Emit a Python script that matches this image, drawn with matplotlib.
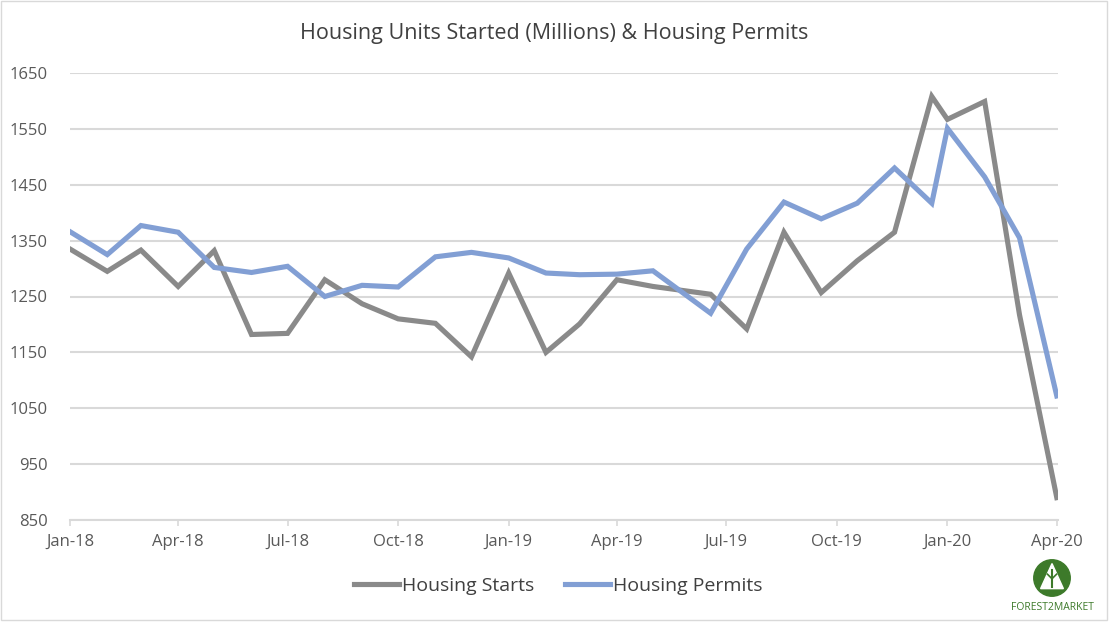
import numpy as np
import pandas as pd
import matplotlib.pyplot as plt
import matplotlib.dates as mdates
from matplotlib.patches import Circle, Polygon, Rectangle

# data (Jun-Dec 2019 are dated mid-month in the source)
dates = pd.to_datetime([
    '2018-01-01', '2018-02-01', '2018-03-01', '2018-04-01', '2018-05-01', '2018-06-01',
    '2018-07-01', '2018-08-01', '2018-09-01', '2018-10-01', '2018-11-01', '2018-12-01',
    '2019-01-01', '2019-02-01', '2019-03-01', '2019-04-01', '2019-05-01',
    '2019-06-18', '2019-07-18', '2019-08-18', '2019-09-18', '2019-10-18', '2019-11-18',
    '2019-12-19', '2020-01-01', '2020-02-01', '2020-03-01', '2020-04-01',
])
starts = [1335, 1295, 1333, 1268, 1332, 1182, 1184, 1280, 1237, 1210, 1202, 1142,
          1292, 1150, 1201, 1280, 1268, 1254, 1192, 1365, 1257, 1314, 1365,
          1608, 1567, 1599, 1217, 890]
permits = [1366, 1325, 1377, 1365, 1302, 1293, 1304, 1250, 1270, 1267, 1321, 1329,
           1319, 1292, 1289, 1290, 1296, 1220, 1335, 1419, 1389, 1417, 1480,
           1417, 1551, 1464, 1355, 1072]
yticks = [850, 950, 1050, 1150, 1250, 1350, 1450, 1550, 1650]

plt.rcParams['font.family'] = ['Open Sans', 'DejaVu Sans']

W, H = 1109, 629
fig = plt.figure(figsize=(W / 100, H / 100), dpi=100)
ax = fig.add_axes([70 / W, 1 - 520 / H, 988 / W, 447 / H])

grey = '#8a8a8a'
blue = '#829fd4'
ax.plot(dates, starts, color=grey, lw=3.7, label='Housing Starts', solid_joinstyle='miter')
ax.plot(dates, permits, color=blue, lw=3.7, label='Housing Permits', solid_joinstyle='miter')

ax.set_ylim(850, 1650)
ax.set_yticks(yticks)
ax.set_xlim(pd.Timestamp('2018-01-01'), pd.Timestamp('2020-04-02'))
ax.xaxis.set_major_locator(mdates.MonthLocator(bymonth=[1, 4, 7, 10]))
ax.xaxis.set_major_formatter(mdates.DateFormatter('%b-%y'))

ax.grid(axis='y', color='#d9d9d9', lw=1.5)
ax.set_axisbelow(True)
for s in ['top', 'right', 'left']:
    ax.spines[s].set_visible(False)
ax.spines['bottom'].set_color('#d9d9d9')
ax.spines['bottom'].set_linewidth(1.5)
ax.tick_params(axis='y', length=0, pad=16, labelsize=12, labelcolor='#595959')
ax.tick_params(axis='x', length=4, width=1.2, color='#d9d9d9', pad=6,
               labelsize=12, labelcolor='#595959')

fig.text(0.5, 1 - 33 / H, 'Housing Units Started (Millions) & Housing Permits',
         ha='center', va='center', fontsize=15.5, color='#404040')

leg = fig.legend(loc='center', bbox_to_anchor=(558 / W, 1 - 586 / H), ncol=2,
                 frameon=False, fontsize=14, handlelength=2.3, handletextpad=0.15,
                 columnspacing=1.6, labelcolor='#404040')

# logo
logo = fig.add_axes([1033 / W, 1 - 597 / H, 38 / W, 38 / H])
logo.set_xlim(0, 1)
logo.set_ylim(0, 1)
logo.axis('off')
logo.add_patch(Circle((0.5, 0.5), 0.48, color='#3d7a2a'))
logo.add_patch(Polygon([[0.5, 0.88], [0.2, 0.22], [0.8, 0.22]], color='white'))
logo.plot([0.5, 0.5], [0.26, 0.7], color='#3d7a2a', lw=1.5)
logo.plot([0.38, 0.5, 0.62], [0.6, 0.48, 0.6], color='#3d7a2a', lw=1.2)
fig.text(1052 / W, 1 - 608 / H, 'FOREST2MARKET', ha='center', va='center',
         fontsize=7.5, color='#3d7a2a')

# chart border
fig.add_artist(Rectangle((1 / W, 1 - 620 / H), 1106 / W, 619 / H, fill=False,
                         edgecolor='#d9d9d9', lw=1, transform=fig.transFigure))

fig.savefig('out.png', dpi=100)
